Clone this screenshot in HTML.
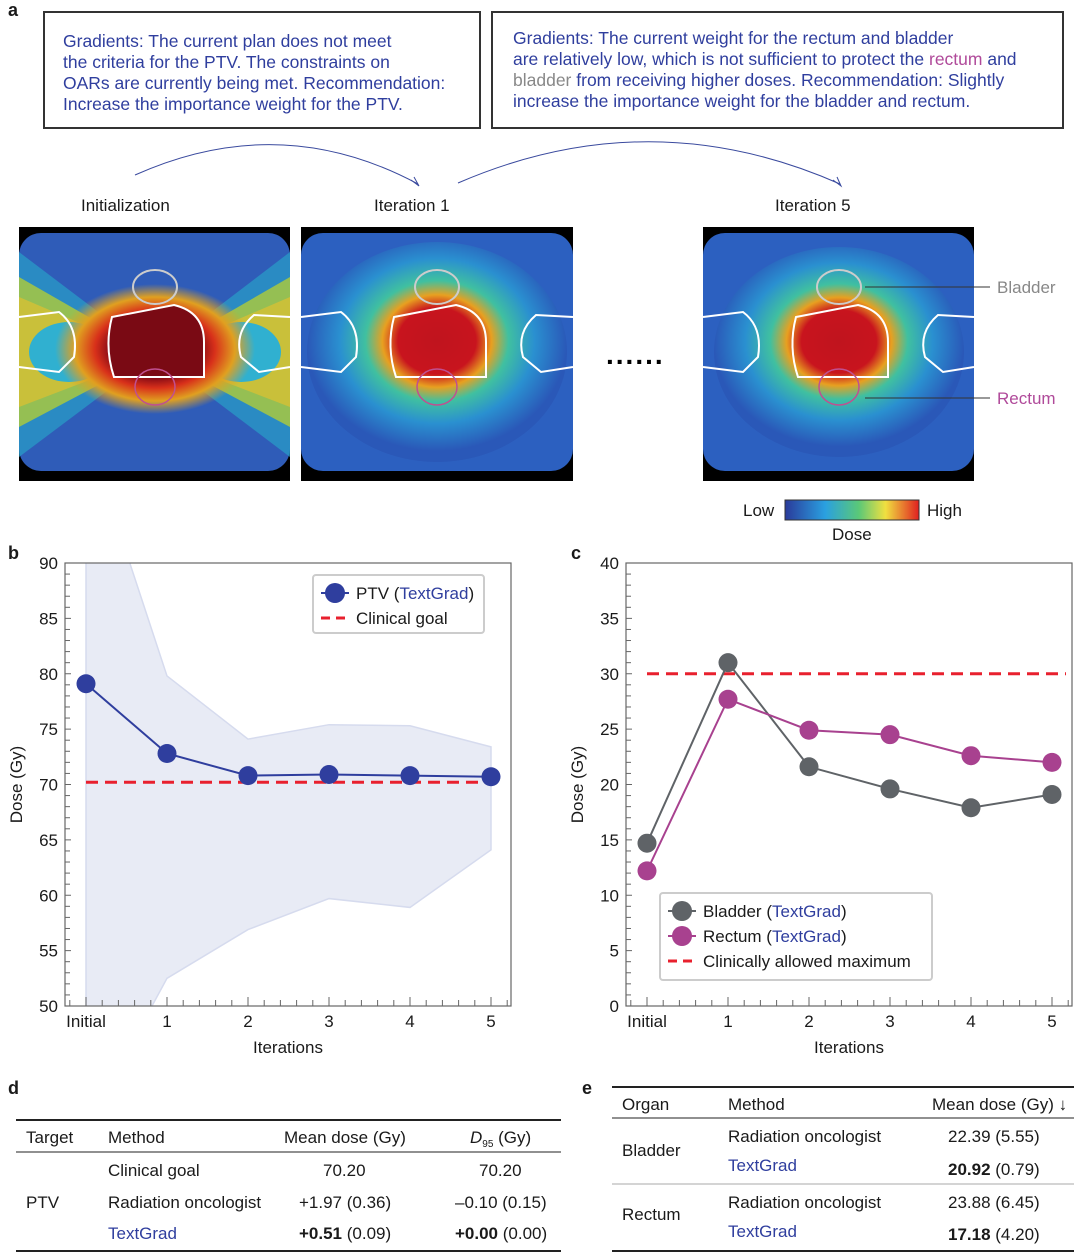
<!DOCTYPE html>
<html><head><meta charset="utf-8"><style>
body{margin:0;background:#fff;font-family:"Liberation Sans",sans-serif;color:#1a1a1a}
#root{position:relative;width:1080px;height:1257px;overflow:hidden}
.abs{position:absolute}
.box{position:absolute;border:2px solid #333;color:#2f3e9e;font-size:17.5px;line-height:21px;box-sizing:border-box}
.lbl{font-weight:bold;font-size:18px}
.t{position:absolute;font-size:17px;white-space:nowrap}
.blue{color:#2f3e9e}
</style></head><body><div id="root">
<div class="abs lbl" style="left:8px;top:0px">a</div>
<div class="box" style="left:43px;top:11px;width:438px;height:118px;padding:18px 0 0 18px">Gradients: The current plan does not meet<br>the criteria for the PTV. The constraints on<br>OARs are currently being met. Recommendation:<br>Increase the importance weight for the PTV.</div>
<div class="box" style="left:491px;top:11px;width:573px;height:118px;padding:15px 0 0 20px">Gradients: The current weight for the rectum and bladder<br>are relatively low, which is not sufficient to protect the <span style="color:#b04a9a">rectum</span> and<br><span style="color:#888">bladder</span> from receiving higher doses. Recommendation: Slightly<br>increase the importance weight for the bladder and rectum.</div>
<svg class="abs" style="left:0;top:0" width="1080" height="230">
<path d="M135,175 Q280,110 418,184" fill="none" stroke="#3a4a9e" stroke-width="1"/><path d="M411,180 L419,186 L414,177" fill="none" stroke="#3a4a9e"/>
<path d="M458,183 Q650,100 840,184" fill="none" stroke="#3a4a9e" stroke-width="1"/><path d="M833,180 L841,186 L837,177" fill="none" stroke="#3a4a9e"/>
</svg>
<div class="t" style="left:81px;top:196px">Initialization</div>
<div class="t" style="left:374px;top:196px">Iteration 1</div>
<div class="t" style="left:775px;top:196px">Iteration 5</div>
<svg class="abs" style="left:0;top:220px" width="1080" height="330">
<defs>
<radialGradient id="g1" cx="0.5" cy="0.5" r="0.5"><stop offset="0" stop-color="#7a0a14"/><stop offset="0.45" stop-color="#8a0c16"/><stop offset="0.6" stop-color="#d8301a"/><stop offset="0.8" stop-color="#e0a020"/><stop offset="1" stop-color="#e0a020" stop-opacity="0"/></radialGradient>
<radialGradient id="g2" cx="0.5" cy="0.45" r="0.5"><stop offset="0" stop-color="#c0141e"/><stop offset="0.3" stop-color="#c8141e"/><stop offset="0.42" stop-color="#e8a020"/><stop offset="0.55" stop-color="#40c0a0"/><stop offset="0.75" stop-color="#2a90d0"/><stop offset="1" stop-color="#2a58b8"/></radialGradient>
</defs>
<g transform="translate(19,7)">
<rect width="271" height="254" fill="#000"/><rect y="6" width="271" height="238" rx="22" fill="#2f5cb8"/>
<polygon points="0,25 136,128 0,230" fill="#28a0c8" opacity="0.7"/>
<polygon points="271,25 136,128 271,230" fill="#28a0c8" opacity="0.7"/>
<polygon points="0,50 136,128 0,200" fill="#a8c840" opacity="0.85"/>
<polygon points="271,50 136,128 271,200" fill="#a8c840" opacity="0.85"/>
<polygon points="0,70 136,128 0,180" fill="#e0c030" opacity="0.7"/>
<polygon points="271,70 136,128 271,180" fill="#e0c030" opacity="0.7"/>
<ellipse cx="50" cy="125" rx="40" ry="30" fill="#30b0d0"/>
<ellipse cx="222" cy="125" rx="40" ry="30" fill="#30b0d0"/>
<ellipse cx="136" cy="122" rx="100" ry="65" fill="url(#g1)"/>
<path d="M93,90 L155,78 Q185,85 185,115 L185,150 L95,150 Q85,120 93,90Z" fill="#7a0a14" stroke="#fff" stroke-width="2"/>
<ellipse cx="136" cy="60" rx="22" ry="17" fill="none" stroke="#ccc" stroke-width="2"/>
<ellipse cx="136" cy="160" rx="20" ry="18" fill="none" stroke="#c05090" stroke-width="1.5"/>
<path d="M0,90 L40,85 Q60,100 55,130 L40,145 L0,140" fill="none" stroke="#fff" stroke-width="2"/>
<path d="M271,90 L235,88 Q215,105 222,130 L240,145 L271,140" fill="none" stroke="#fff" stroke-width="2"/>
</g>
<g transform="translate(301,7)">
<rect width="272" height="254" fill="#000"/><rect y="6" width="272" height="238" rx="22" fill="#2c60c0"/>
<ellipse cx="136" cy="125" rx="130" ry="110" fill="url(#g2)"/>
<path d="M93,90 L155,78 Q185,85 185,115 L185,150 L95,150 Q85,120 93,90Z" fill="none" stroke="#fff" stroke-width="2"/>
<ellipse cx="136" cy="60" rx="22" ry="17" fill="none" stroke="#ccc" stroke-width="2"/>
<ellipse cx="136" cy="160" rx="20" ry="18" fill="none" stroke="#c05090" stroke-width="1.5"/>
<path d="M0,90 L40,85 Q60,100 55,130 L40,145 L0,140" fill="none" stroke="#fff" stroke-width="2"/>
<path d="M272,90 L235,88 Q215,105 222,130 L240,145 L272,140" fill="none" stroke="#fff" stroke-width="2"/>
</g>
<g transform="translate(703,7)">
<rect width="271" height="254" fill="#000"/><rect y="6" width="271" height="238" rx="22" fill="#2c60c0"/>
<ellipse cx="136" cy="125" rx="125" ry="105" fill="url(#g2)"/>
<path d="M93,90 L155,78 Q185,85 185,115 L185,150 L95,150 Q85,120 93,90Z" fill="none" stroke="#fff" stroke-width="2"/>
<ellipse cx="136" cy="60" rx="22" ry="17" fill="none" stroke="#ccc" stroke-width="2"/>
<ellipse cx="136" cy="160" rx="20" ry="18" fill="none" stroke="#c05090" stroke-width="1.5"/>
<path d="M0,90 L40,85 Q60,100 55,130 L40,145 L0,140" fill="none" stroke="#fff" stroke-width="2"/>
<path d="M271,90 L235,88 Q215,105 222,130 L240,145 L271,140" fill="none" stroke="#fff" stroke-width="2"/>
</g>
<line x1="865" y1="67" x2="990" y2="67" stroke="#333"/><line x1="865" y1="178" x2="990" y2="178" stroke="#333"/>
<text x="606" y="144" font-size="28" font-weight="bold" fill="#000" letter-spacing="2">......</text>
<defs><linearGradient id="cb"><stop offset="0" stop-color="#2a3a9a"/><stop offset="0.3" stop-color="#2aa0e0"/><stop offset="0.55" stop-color="#5ac878"/><stop offset="0.75" stop-color="#f0e040"/><stop offset="1" stop-color="#e02020"/></linearGradient></defs>
<rect x="785" y="280" width="134" height="20" fill="url(#cb)" stroke="#333"/>
</svg>
<div class="t" style="left:997px;top:278px;color:#888">Bladder</div>
<div class="t" style="left:997px;top:389px;color:#b04a9a">Rectum</div>
<div class="t" style="left:743px;top:501px">Low</div>
<div class="t" style="left:927px;top:501px">High</div>
<div class="t" style="left:832px;top:525px">Dose</div>
<div class="abs lbl" style="left:8px;top:543px">b</div>
<div class="abs lbl" style="left:571px;top:543px">c</div>
<svg id="charts" class="abs" style="left:0;top:0" width="1080" height="1070"></svg>
<div class="abs lbl" style="left:8px;top:1078px">d</div>
<div class="abs lbl" style="left:582px;top:1078px">e</div>
<svg class="abs" style="left:0;top:1080px" width="1080" height="177">
<line x1="16" y1="40" x2="561" y2="40" stroke="#222" stroke-width="2"/><line x1="16" y1="72" x2="561" y2="72" stroke="#222"/><line x1="16" y1="171" x2="561" y2="171" stroke="#222" stroke-width="2"/>
<line x1="612" y1="7" x2="1074" y2="7" stroke="#222" stroke-width="2"/><line x1="612" y1="38" x2="1074" y2="38" stroke="#222"/><line x1="612" y1="104" x2="1074" y2="104" stroke="#aaa"/><line x1="612" y1="171" x2="1074" y2="171" stroke="#222" stroke-width="2"/>
<g font-size="17" fill="#1a1a1a">
<text x="26" y="63">Target</text><text x="108" y="63">Method</text><text x="284" y="63">Mean dose (Gy)</text><text x="470" y="63"><tspan font-style="italic">D</tspan><tspan font-size="10" dy="4">95</tspan><tspan dy="-4"> (Gy)</tspan></text>
<text x="108" y="96">Clinical goal</text><text x="323" y="96">70.20</text><text x="479" y="96">70.20</text>
<text x="26" y="128">PTV</text><text x="108" y="128">Radiation oncologist</text><text x="299" y="128">+1.97 (0.36)</text><text x="455" y="128">–0.10 (0.15)</text>
<text x="108" y="159" fill="#2f3e9e">TextGrad</text><text x="299" y="159"><tspan font-weight="bold">+0.51</tspan> (0.09)</text><text x="455" y="159"><tspan font-weight="bold">+0.00</tspan> (0.00)</text>
<text x="622" y="30">Organ</text><text x="728" y="30">Method</text><text x="932" y="30">Mean dose (Gy) ↓</text>
<text x="622" y="76">Bladder</text><text x="728" y="62">Radiation oncologist</text><text x="948" y="62">22.39 (5.55)</text>
<text x="728" y="91" fill="#2f3e9e">TextGrad</text><text x="948" y="95"><tspan font-weight="bold">20.92</tspan> (0.79)</text>
<text x="622" y="140">Rectum</text><text x="728" y="128">Radiation oncologist</text><text x="948" y="128">23.88 (6.45)</text>
<text x="728" y="157" fill="#2f3e9e">TextGrad</text><text x="948" y="160"><tspan font-weight="bold">17.18</tspan> (4.20)</text>
</g></svg>
</div>
<script>
const xCats=["Initial","1","2","3","4","5"];
const ptv=[79.1,72.8,70.8,70.9,70.8,70.7];
const ptvUpper=[102,79.8,74.1,75.4,75.3,73.4];
const ptvLower=[39,52.5,56.9,59.7,58.9,64.1];
const clinicalGoal=70.2;
const bladder=[14.7,31.0,21.6,19.6,17.9,19.1];
const rectum=[12.2,27.7,24.9,24.5,22.6,22.0];
const clinicalMax=30;
const bTicks=[50,55,60,65,70,75,80,85,90];
const cTicks=[0,5,10,15,20,25,30,35,40];
const NS="http://www.w3.org/2000/svg";
const svg=document.getElementById('charts');
function mk(tag,attrs,parent){const e=document.createElementNS(NS,tag);for(const k in attrs)e.setAttribute(k,attrs[k]);(parent||svg).appendChild(e);return e;}
function chart(x0,name,ymin,ymax,ticks,clipId){
 const L=x0,R=x0+446,T=563,B=1006;
 const xs=i=>L+21+i*81;
 const ys=v=>B-(v-ymin)*(B-T)/(ymax-ymin);
 const g=mk('g',{});
 
 
 const cp=mk('clipPath',{id:clipId},g);mk('rect',{x:L,y:T,width:R-L,height:B-T},cp);
 return {L,R,T,B,xs,ys,g};
}
function axes(c,ticks,ymin,ymax){
 const {L,R,T,B,xs,ys,g}=c;
 mk('rect',{x:L,y:T,width:R-L,height:B-T,fill:'none',stroke:'#666','stroke-width':1.2},g);
 for(let v=ymin;v<=ymax;v++){const y=ys(v);mk('line',{x1:L,x2:L+(v%5==0?6:5),y1:y,y2:y,stroke:'#666'},g);}
 ticks.forEach(v=>{const t=mk('text',{x:L-7,y:ys(v)+6,'text-anchor':'end','font-size':17,fill:'#1a1a1a'},g);t.textContent=v;
 
 });
 for(let k=-1;k<=26;k++){const x=xs(0)+k*81/5;if(x<=L||x>=R)continue;mk('line',{x1:x,x2:x,y1:B,y2:B-(k%5==0?9:6),stroke:'#666'},g);}
 xCats.forEach((c2,i)=>{const t=mk('text',{x:xs(i),y:B+21,'text-anchor':'middle','font-size':17,fill:'#1a1a1a'},g);t.textContent=c2;
 
 });
 const xt=mk('text',{x:(L+R)/2,y:B+47,'text-anchor':'middle','font-size':17,fill:'#1a1a1a'},g);xt.textContent='Iterations';
 
 
 const yt=mk('text',{x:0,y:0,'text-anchor':'middle','font-size':17,fill:'#1a1a1a',transform:`translate(${L-43},${(T+B)/2}) rotate(-90)`},g);yt.textContent='Dose (Gy)';
 
 
}
function series(c,vals,color,name){
 const pl=mk('polyline',{points:vals.map((v,i)=>c.xs(i)+','+c.ys(v)).join(' '),fill:'none',stroke:color,'stroke-width':2},c.g);
 
 
 vals.forEach((v,i)=>{const p=mk('circle',{cx:c.xs(i),cy:c.ys(v),r:9.5,fill:color},c.g);
 
 });
}
const b=chart(65,'ptv-chart',50,90,bTicks,'clipb');
const pts=ptvUpper.map((v,i)=>b.xs(i)+','+b.ys(v)).concat(ptvLower.map((v,i)=>b.xs(i)+','+b.ys(v)).reverse());
const band=mk('polygon',{points:pts.join(' '),fill:'#e8ebf5',stroke:'#d6dbee','stroke-width':1.5,'clip-path':'url(#clipb)'},b.g);


axes(b,bTicks,50,90);
const gl=mk('line',{x1:b.xs(0),x2:b.R-8,y1:b.ys(clinicalGoal),y2:b.ys(clinicalGoal),stroke:'#e8202e','stroke-width':3,'stroke-dasharray':'12,7'},b.g);


series(b,ptv,'#2f3e9e','ptv');
const c=chart(626,'oar-chart',0,40,cTicks,'clipc');
axes(c,cTicks,0,40);
const ml=mk('line',{x1:c.xs(0),x2:c.R-6,y1:c.ys(clinicalMax),y2:c.ys(clinicalMax),stroke:'#e8202e','stroke-width':3,'stroke-dasharray':'12,7'},c.g);


series(c,bladder,'#5f6367','bladder');
series(c,rectum,'#a8418f','rectum');
function legend(x,y,w,h,items,name){
 const g=mk('g',{});
 
 
 mk('rect',{x,y,width:w,height:h,rx:3,fill:'#fff',stroke:'#ccc','stroke-width':2},g);
 items.forEach((it,i)=>{const yy=y+18+i*25;
  if(it.dash){mk('line',{x1:x+8,x2:x+35,y1:yy,y2:yy,stroke:'#e8202e','stroke-width':3,'stroke-dasharray':'9,6'},g);}
  else{mk('line',{x1:x+8,x2:x+36,y1:yy,y2:yy,stroke:it.color,'stroke-width':2},g);mk('circle',{cx:x+22,cy:yy,r:10,fill:it.color},g);}
  const t=mk('text',{x:x+43,y:yy+6,'font-size':17,fill:'#1a1a1a'},g);
  if(it.tg){t.innerHTML=it.label+' (<tspan fill="#2f3e9e">TextGrad</tspan>)';}else t.textContent=it.label;
  
  
 });
}
legend(313,575,171,58,[{label:'PTV',tg:1,color:'#2f3e9e'},{label:'Clinical goal',dash:1}],'legend-b');
legend(660,893,272,87,[{label:'Bladder',tg:1,color:'#5f6367'},{label:'Rectum',tg:1,color:'#a8418f'},{label:'Clinically allowed maximum',dash:1}],'legend-c');
</script>
</body></html>
